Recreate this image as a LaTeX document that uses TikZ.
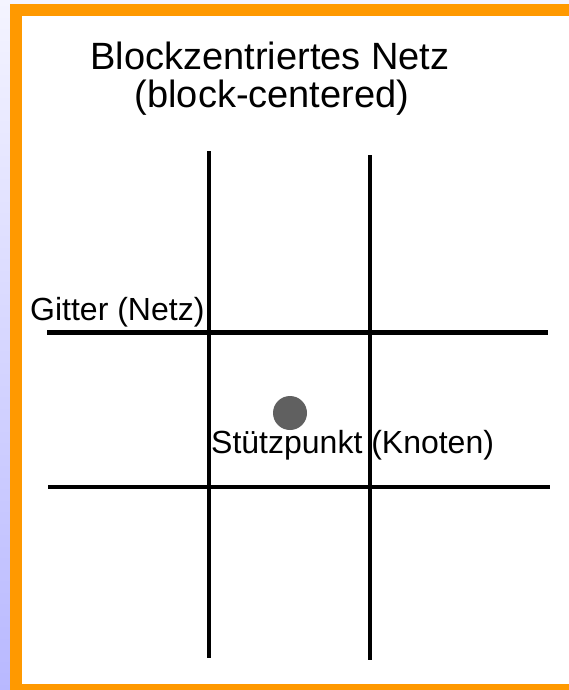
\documentclass[tikz,border=0pt]{standalone}
\usepackage{fontspec}
\setmainfont{Liberation Sans}
\definecolor{framebg}{RGB}{255,153,0}
\definecolor{sidetop}{RGB}{244,244,255}
\definecolor{sidebot}{RGB}{184,184,255}
\definecolor{knotgray}{RGB}{96,96,96}
\begin{document}
\begin{tikzpicture}[x=1pt,y=-1pt,
  gridline/.style={line width=4pt, black, line cap=butt},
  titletext/.style={inner sep=0pt, font=\fontsize{38}{44}\selectfont},
  lbltext/.style={inner sep=0pt, font=\fontsize{32}{38}\selectfont},
]
\useasboundingbox (0,0) rectangle (569,690);
% slide background, orange frame and white panel
\shade[top color=sidetop, bottom color=sidebot] (0,0) rectangle (569,690);
\fill[framebg] (10,4) rectangle (569,690);
\fill[white] (22,16) rectangle (569,684);

% title
\node[titletext, anchor=base] (title) at (270,70) {Blockzentriertes Netz};
\node[titletext, anchor=base] (subtitle) at (272,108) {(block-centered)};

% grid end points
\coordinate (v1t) at (209,151);
\coordinate (v1b) at (209,658);
\coordinate (v2t) at (370,155);
\coordinate (v2b) at (370,660);
\coordinate (h1l) at (47,332);
\coordinate (h1r) at (548,332);
\coordinate (h2l) at (48,487);
\coordinate (h2r) at (550,487);

\draw[gridline] (v1t) -- (v1b);
\draw[gridline] (v2t) -- (v2b);
\draw[gridline, line width=5pt] (h1l) -- (h1r);
\draw[gridline] (h2l) -- (h2r);

% node of the grid
\fill[knotgray] (290,413) circle[radius=17] coordinate (knot);

% labels
\node[lbltext, anchor=base west] (gitter) at (30,320) {Gitter (Netz)};
\node[lbltext, anchor=base west] (stuetz) at (211,453) {Stützpunkt (Knoten)};
\end{tikzpicture}
\end{document}
